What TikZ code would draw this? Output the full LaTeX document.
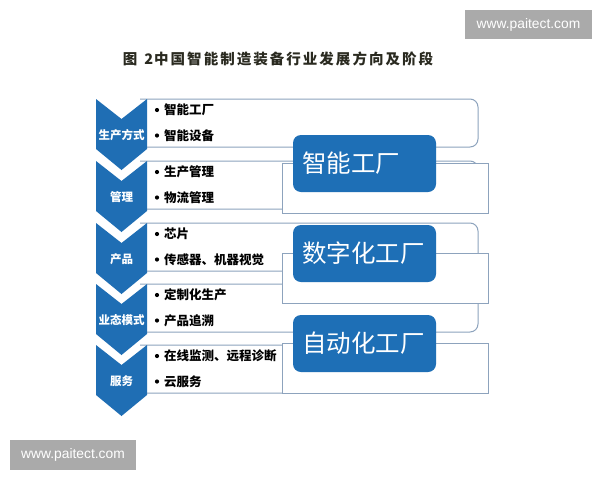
\documentclass[tikz,border=0pt]{standalone}
\usepackage{fontspec}
\setmainfont{Noto Sans CJK SC}
\newfontfamily\titlefont[LetterSpace=14]{Noto Sans CJK SC}
\newfontfamily\wmfont{Liberation Sans}
\definecolor{chevblue}{HTML}{1F6EB4}
\definecolor{labblue}{HTML}{1E6FB6}
\definecolor{boxedge}{HTML}{8DA3BD}
\definecolor{wmgray}{HTML}{AAAAAA}
\definecolor{titlecol}{HTML}{2A2A20}
\tikzset{
  boxline/.style={draw=boxedge, line width=1pt, fill=white},
  bluelab/.style={fill=labblue, rounded corners=8pt, text=white, text width=125pt, align=left,
    inner xsep=9pt, inner ysep=0pt, minimum height=57pt, font=\fontsize{24.5}{28}\selectfont},
  chevlab/.style={text=white, inner sep=0pt, font=\bfseries\fontsize{11.5}{13}\selectfont},
  bultext/.style={anchor=west, inner sep=0pt, text=black, font=\bfseries\fontsize{12.5}{14}\selectfont},
  wmbox/.style={fill=wmgray},
  wmtext/.style={text=white, inner sep=0pt, font=\wmfont\fontsize{13.8}{15}\selectfont},
  titletext/.style={text=titlecol, inner sep=0pt, font=\titlefont\bfseries\fontsize{14.5}{16}\selectfont}
}
\begin{document}
\begin{tikzpicture}[x=1pt,y=-1pt]
\useasboundingbox (0,0) rectangle (600,480);
\fill[white] (0,0) rectangle (600,480);

% watermarks
\fill[wmbox] (465,10) rectangle (592,39);
\node[wmtext] (wm1) at (528.5,24.5) {www.paitect.com};
\fill[wmbox] (10,440) rectangle (136,470);
\node[wmtext] (wm2) at (73,455) {www.paitect.com};

% title
\node[titletext] (title) at (278,59) {图\hspace{7pt}2\hspace{1pt}中国智能制造装备行业发展方向及阶段};

% row boxes with rounded right corners
\foreach \T in {99,161,223,284,345} {
  \draw[boxline] (140,\T) -- (470,\T) arc[start angle=270,end angle=360,radius=8]
     -- (478,\T+40) arc[start angle=0,end angle=90,radius=8] -- (140,\T+48);
}

% sharp boxes
\draw[boxline] (282,163) rectangle (488,213);
\draw[boxline] (282,253) rectangle (488,303);
\draw[boxline] (282,343) rectangle (488,393);

% blue labels
\node[bluelab] (f1) at (364.5,163.5) {智能工厂};
\node[bluelab] (f2) at (364.5,253.5) {数字化工厂};
\node[bluelab] (f3) at (364.5,343.5) {自动化工厂};

% chevrons
\foreach \T/\lab/\n in {99/生产方式/1,161/管理/2,223/产品/3,284/业态模式/4,345/服务/5} {
  \fill[chevblue] (96,\T) -- (121.5,\T+20) -- (147,\T) -- (147,\T+50) -- (121.5,\T+71) -- (96,\T+50) -- cycle;
  \node[chevlab] (c\n) at (121.5,\T+36) {\lab};
}

% bullet texts
\foreach \T/\a/\b/\n in {99/智能工厂/智能设备/1,161/生产管理/物流管理/2,223/芯片/传感器、机器视觉/3,284/定制化生产/产品追溯/4,345/在线监测、远程诊断/云服务/5} {
  \fill[black] (157,\T+11) circle (2.1);
  \fill[black] (157,\T+36.5) circle (2.1);
  \node[bultext] (r\n a) at (164,\T+11) {\a};
  \node[bultext] (r\n b) at (164,\T+36.5) {\b};
}
\end{tikzpicture}
\end{document}
